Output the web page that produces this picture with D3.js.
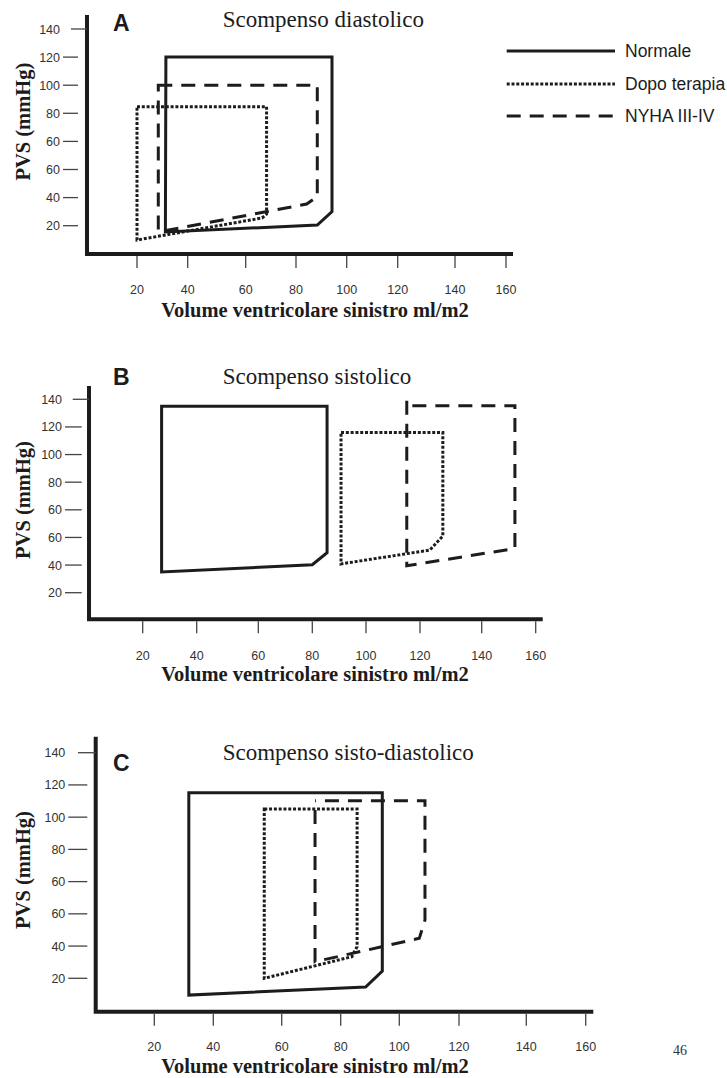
<!DOCTYPE html>
<html>
<head>
<meta charset="utf-8">
<script src="https://cdn.jsdelivr.net/npm/d3@7"></script>
<style>
  body { margin: 0; background: #fff; }
</style>
</head>
<body>
<div id="area"></div>
<script>
'use strict';

// tick values (same on the three panels)
const xTicks = [20, 40, 60, 80, 100, 120, 140, 160];
const yTicks = [20, 40, 60, 80, 100, 120, 140, 160];
// labels printed on the pressure axis (the original repeats "60")
const yTickLabels = ["20", "40", "60", "60", "80", "100", "120", "140"];

const seriesNames = ["Normale", "Dopo terapia", "NYHA III-IV"];
const titles = ["Scompenso diastolico", "Scompenso sistolico", "Scompenso sisto-diastolico"];
const letters = ["A", "B", "C"];

// pressure-volume loops, [volume, pressure] vertices
const diastNormale = [[31.4, 140], [94.2, 140], [94.2, 30], [88.4, 20.5], [31.2, 15.5]];
const diastDopo    = [[20, 104.7], [68.3, 104.7], [68.3, 28.3], [66.5, 25.5], [20, 9.8]];
const diastNyha    = [[28.4, 120], [88.4, 120], [88.4, 40.6], [84.2, 35.4], [28.4, 15.5]];

const sistNormale = [[27, 155], [85.5, 155], [85.5, 48.9], [80, 40.3], [27, 35]];
const sistDopo    = [[90.7, 136], [127.4, 136], [127.4, 61], [123.2, 50.9], [90.7, 40.8]];
const sistNyha    = [[115.1, 159], [115.1, 39.5], [152.3, 52], [152.3, 155.4], [115.1, 155.4]];

const sdNormale = [[31.7, 135.2], [94.2, 135.2], [94.2, 24.5], [88.5, 14.6], [31.7, 9.6]];
const sdDopo    = [[54.9, 125.1], [85.6, 125.1], [85.6, 39.6], [83.8, 33.4], [54.9, 20]];
const sdNyha    = [[71.3, 124.4], [71.3, 30.3], [106.7, 44.8], [108.6, 56.2], [108.6, 130.2], [71.3, 130.2]];

const loops = [
  [diastNormale, diastDopo, diastNyha],
  [sistNormale, sistDopo, sistNyha],
  [sdNormale, sdDopo, sdNyha]
];
const closedLoop = [
  [true, true, true],
  [true, true, false],
  [true, true, false]
];

// layout of each panel (the scanned figure has uneven tick spacing)
const layout = [
  { xPx: [137, 187.7, 245.7, 296, 346.7, 397.7, 455, 506], y20: 225.7, y160: 29,
    axisX: 87, axisTop: 15, axisY: 254, axisEnd: 513,
    tickIn: 63, tickOut: 78, topTickIn: 71,
    titleY: 27, letterY: 31, tickLabelY: 293.5, xLabelY: 317, yLabelY: 121.7 },
  { xPx: [142.7, 196.7, 258.3, 312.3, 366, 420, 481.7, 535.7], y20: 592.7, y160: 399.3,
    axisX: 89, axisTop: 386, axisY: 619.3, axisEnd: 542.7,
    tickIn: 65, tickOut: 81.7, topTickIn: 72.7,
    titleY: 384, letterY: 385, tickLabelY: 659.5, xLabelY: 681, yLabelY: 500 },
  { xPx: [154.3, 213.3, 281.7, 340.7, 399.3, 459, 526.3, 585.7], y20: 978.3, y160: 752.7,
    axisX: 95.7, axisTop: 736.7, axisY: 1011.7, axisEnd: 593.3,
    tickIn: 68.3, tickOut: 87.3, topTickIn: 78,
    titleY: 760, letterY: 771, tickLabelY: 1051, xLabelY: 1073, yLabelY: 870 }
];

const ink = "#1c1c1c";
const dashStyles = [null, "3,1.8", "14,9"];
const strokeW = [3, 3, 3];
const sans = "'Liberation Sans', Arial, sans-serif";
const serif = "'Liberation Serif', 'Times New Roman', serif";

const svg = d3.select('#area').append('svg')
  .attr('width', 727).attr('height', 1078);

layout.forEach(function (l, p) {
  const g = svg.append('g');
  const x = d3.scaleLinear().domain(xTicks).range(l.xPx);
  const y = d3.scaleLinear().domain([20, 160]).range([l.y20, l.y160]);

  // axis frame
  g.append('path')
    .attr('d', 'M' + l.axisX + ',' + l.axisTop + 'V' + l.axisY + 'H' + l.axisEnd)
    .attr('fill', 'none')
    .attr('stroke', ink)
    .attr('stroke-width', 4);

  // x ticks
  g.selectAll('.xt').data(xTicks).enter().append('line')
    .attr('x1', d => x(d)).attr('x2', d => x(d))
    .attr('y1', l.axisY + 2).attr('y2', l.axisY + 14)
    .attr('stroke', '#444').attr('stroke-width', 1.3);
  g.selectAll('.xl').data(xTicks).enter().append('text')
    .attr('x', d => x(d)).attr('y', l.tickLabelY)
    .attr('text-anchor', 'middle')
    .attr('font-family', sans).attr('font-size', 12.5).attr('fill', '#333')
    .text(d => d);

  // y ticks, the top one touches the axis
  g.selectAll('.yt').data(yTicks).enter().append('line')
    .attr('x1', (d, i) => i === yTicks.length - 1 ? l.topTickIn : l.tickIn)
    .attr('x2', (d, i) => i === yTicks.length - 1 ? l.axisX : l.tickOut)
    .attr('y1', d => y(d)).attr('y2', d => y(d))
    .attr('stroke', '#444').attr('stroke-width', 1.3);
  g.selectAll('.yl').data(yTicks).enter().append('text')
    .attr('x', l.tickIn - 3).attr('y', d => y(d) + 4.5)
    .attr('text-anchor', 'end')
    .attr('font-family', sans).attr('font-size', 12.5).attr('fill', '#333')
    .text((d, i) => yTickLabels[i]);

  // axis titles
  g.append('text')
    .attr('x', 315).attr('y', l.xLabelY)
    .attr('text-anchor', 'middle')
    .attr('font-family', serif).attr('font-weight', 'bold').attr('font-size', 20.5)
    .attr('fill', ink)
    .text('Volume ventricolare sinistro ml/m2');
  g.append('text')
    .attr('transform', 'translate(29.5,' + l.yLabelY + ') rotate(-90)')
    .attr('text-anchor', 'middle')
    .attr('font-family', serif).attr('font-weight', 'bold').attr('font-size', 20.5)
    .attr('fill', ink)
    .text('PVS (mmHg)');

  // panel letter and title
  g.append('text')
    .attr('x', 113).attr('y', l.letterY)
    .attr('font-family', sans).attr('font-weight', 'bold').attr('font-size', 23)
    .attr('fill', ink)
    .text(letters[p]);
  g.append('text')
    .attr('x', 222.7).attr('y', l.titleY)
    .attr('font-family', serif).attr('font-size', 23)
    .attr('fill', ink)
    .text(titles[p]);

  // loops
  const line = d3.line().x(d => x(d[0])).y(d => y(d[1]));
  loops[p].forEach(function (pts, s) {
    g.append('path')
      .attr('d', line(pts) + (closedLoop[p][s] ? 'Z' : ''))
      .attr('fill', 'none')
      .attr('stroke', ink)
      .attr('stroke-width', strokeW[s])
      .attr('stroke-linejoin', 'miter')
      .attr('stroke-dasharray', dashStyles[s]);
  });
});

// legend (panel A only)
const legendY = [51, 84, 116];
const legend = svg.append('g');
seriesNames.forEach(function (name, s) {
  legend.append('line')
    .attr('x1', 506.7).attr('x2', 615)
    .attr('y1', legendY[s]).attr('y2', legendY[s])
    .attr('stroke', ink)
    .attr('stroke-width', strokeW[s])
    .attr('stroke-dasharray', dashStyles[s]);
  legend.append('text')
    .attr('x', 625).attr('y', legendY[s] + 6)
    .attr('font-family', sans).attr('font-size', 17.5)
    .attr('fill', ink)
    .text(name);
});

// page number
svg.append('text')
  .attr('x', 673).attr('y', 1055)
  .attr('font-family', serif).attr('font-size', 14)
  .attr('fill', '#333')
  .text('46');
</script>
</body>
</html>
